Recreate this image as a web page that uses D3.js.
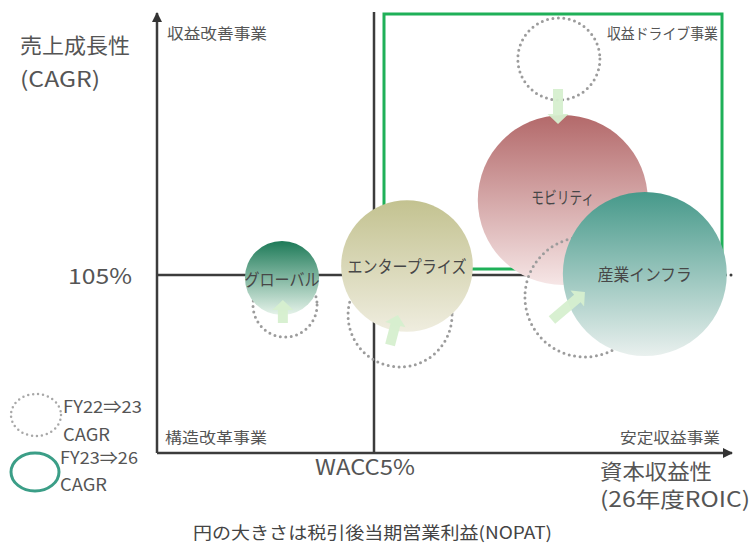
<!DOCTYPE html>
<html><head><meta charset="utf-8">
<script src="https://cdn.jsdelivr.net/npm/d3@7"></script>
<style>
html,body{margin:0;padding:0;background:#fff;}
svg{display:block;font-family:"Noto Sans CJK JP","Noto Sans",sans-serif;}
</style></head>
<body>
<script>
// ---- data ----
const segments = ["グローバル", "エンタープライズ", "モビリティ", "産業インフラ"];
// FY23⇒26 (bubbles): ROIC (26年度, %) and CAGR (%)
const roic26 = [2.88, 5.76, 9.35, 11.24];
const cagr26 = [104.85, 105.45, 108.75, 105.05];
const nopat26 = [190, 600, 1000, 930];
// FY22⇒23 (dotted circles)
const roic23 = [2.95, 5.6, 9.26, 9.86];
const cagr23 = [103.5, 103.0, 115.8, 103.9];
const nopat23 = [142, 374, 233, 498];
// movement arrows (tail -> head) in data units
const arrowX0 = [2.9, 5.37, 9.24, 9.1];
const arrowY0 = [102.6, 101.5, 114.3, 102.75];
const arrowX1 = [2.9, 5.55, 9.24, 9.86];
const arrowY1 = [103.75, 103.0, 112.55, 104.15];
const waccValue = 5;
const cagrRef = 105;
const quadrantLabels = ["収益改善事業", "収益ドライブ事業", "構造改革事業", "安定収益事業"];

// ---- setup ----
const W = 752, H = 543;
const svg = d3.select("body").append("svg").attr("width", W).attr("height", H);
const x = d3.scaleLinear().domain([0, 13]).range([157, 721.2]);
const y = d3.scaleLinear().domain([96, 118]).range([455, 15]);
const r = d3.scaleSqrt().domain([0, 1000]).range([0, 85]);

const fills = [
  ["#1d7a58", "#e6f3ea"],
  ["#c3c290", "#efeddf"],
  ["#b3696a", "#f6e6e6"],
  ["#46998a", "#e9f0ee"]
];
const defs = svg.append("defs");
fills.forEach((c, i) => {
  const g = defs.append("linearGradient").attr("id", "g" + i)
    .attr("x1", 0).attr("y1", 0).attr("x2", 0).attr("y2", 1);
  g.append("stop").attr("offset", "0%").attr("stop-color", c[0]);
  g.append("stop").attr("offset", "100%").attr("stop-color", c[1]);
});
defs.append("marker").attr("id", "ah").attr("viewBox", "0 0 10 10")
  .attr("refX", 9).attr("refY", 5).attr("markerWidth", 4).attr("markerHeight", 4)
  .attr("orient", "auto").append("path").attr("d", "M0,0L10,5L0,10Z").attr("fill", "#333");

function txt(parent, t, px, py, size, len, anchor, color) {
  return parent.append("text").attr("x", px).attr("y", py).attr("font-size", size)
    .attr("text-anchor", anchor || "start").attr("fill", color || "#555")
    .attr("textLength", len).attr("lengthAdjust", "spacingAndGlyphs").text(t);
}

const axisColor = "#3c3c3c";
const x0 = x(0), yBase = 453, yTop = 13;
// reference lines
svg.append("line").attr("x1", x0).attr("x2", 727).attr("y1", y(cagrRef)).attr("y2", y(cagrRef))
  .attr("stroke", axisColor).attr("stroke-width", 2.5);
svg.append("circle").attr("cx", 731).attr("cy", y(cagrRef)).attr("r", 1.5).attr("fill", axisColor);
svg.append("line").attr("x1", x(waccValue)).attr("x2", x(waccValue)).attr("y1", 12).attr("y2", yBase)
  .attr("stroke", axisColor).attr("stroke-width", 2.5);
// axes
svg.append("line").attr("x1", x0).attr("x2", x0).attr("y1", yBase).attr("y2", yTop)
  .attr("stroke", axisColor).attr("stroke-width", 2.5).attr("marker-end", "url(#ah)");
svg.append("line").attr("x1", x0).attr("x2", 732).attr("y1", yBase).attr("y2", yBase)
  .attr("stroke", axisColor).attr("stroke-width", 2.5).attr("marker-end", "url(#ah)");
// green rectangle highlighting 収益ドライブ事業
svg.append("rect").attr("x", 384).attr("y", 14).attr("width", 338).attr("height", 255)
  .attr("fill", "none").attr("stroke", "#1fb058").attr("stroke-width", 3);

function bubble(i) {
  svg.append("circle").attr("cx", x(roic26[i])).attr("cy", y(cagr26[i])).attr("r", r(nopat26[i]))
    .attr("fill", `url(#g${i})`);
}
// mobility first, then dotted circles, then others
bubble(2);
segments.forEach((s, i) => {
  svg.append("circle").attr("cx", x(roic23[i])).attr("cy", y(cagr23[i])).attr("r", r(nopat23[i]))
    .attr("fill", "none").attr("stroke", "#9c9c9c").attr("stroke-width", 3)
    .attr("stroke-linecap", "round").attr("stroke-dasharray", "0 5.5");
});
bubble(0); bubble(1); bubble(3);

// arrows
segments.forEach((s, i) => {
  const ax = x(arrowX0[i]), ay = y(arrowY0[i]), bx = x(arrowX1[i]), by = y(arrowY1[i]);
  const len = Math.hypot(bx - ax, by - ay);
  const ang = Math.atan2(by - ay, bx - ax) * 180 / Math.PI;
  const hw = 5, hl = 10, hh = 10.5;
  const p = `M0,${-hw}L${len - hl},${-hw}L${len - hl},${-hh}L${len},0L${len - hl},${hh}L${len - hl},${hw}L0,${hw}Z`;
  svg.append("path").attr("d", p).attr("fill", "#d6efcf").attr("opacity", 0.95)
    .attr("transform", `translate(${ax},${ay}) rotate(${ang})`);
});

// bubble labels
const labelLen = [75, 119, 63, 94];
const labelDy = [8, 7, 4, 7];
segments.forEach((s, i) => {
  txt(svg, s, x(roic26[i]), y(cagr26[i]) + labelDy[i], 17, labelLen[i], "middle", "#474747");
});

// quadrant labels
const ql = svg.append("g");
txt(ql, quadrantLabels[0], 167, 39, 15, 100);
txt(ql, quadrantLabels[1], 718, 39, 15, 111, "end");
txt(ql, quadrantLabels[2], 165, 443, 15, 102);
txt(ql, quadrantLabels[3], 720, 443, 15, 100, "end");

// axis titles
txt(svg, "売上成長性", 20, 53, 21, 110);
txt(svg, "(CAGR)", 20, 87, 21, 80);
txt(svg, cagrRef + "%", 132, y(cagrRef) + 9, 21, 64, "end");
txt(svg, "WACC" + waccValue + "%", 315, 475, 21, 100);
txt(svg, "資本収益性", 600, 479, 21, 112);
txt(svg, "(26年度ROIC)", 600, 507, 21, 150);
txt(svg, "円の大きさは税引後当期営業利益(NOPAT)", 193, 539, 17, 359, "start", "#444");

// legend
svg.append("ellipse").attr("cx", 36).attr("cy", 415).attr("rx", 25).attr("ry", 21)
  .attr("fill", "none").attr("stroke", "#a8a8a8").attr("stroke-width", 2.5)
  .attr("stroke-linecap", "round").attr("stroke-dasharray", "0 5");
svg.append("ellipse").attr("cx", 35).attr("cy", 472).attr("rx", 24).attr("ry", 19)
  .attr("fill", "none").attr("stroke", "#3b9e87").attr("stroke-width", 3);
const lg = svg.append("g");
txt(lg, "FY22⇒23", 63, 413, 17, 79);
txt(lg, "CAGR", 63, 441, 17, 47);
txt(lg, "FY23⇒26", 60, 464, 17, 78);
txt(lg, "CAGR", 60, 491, 17, 47);
</script>
</body></html>
